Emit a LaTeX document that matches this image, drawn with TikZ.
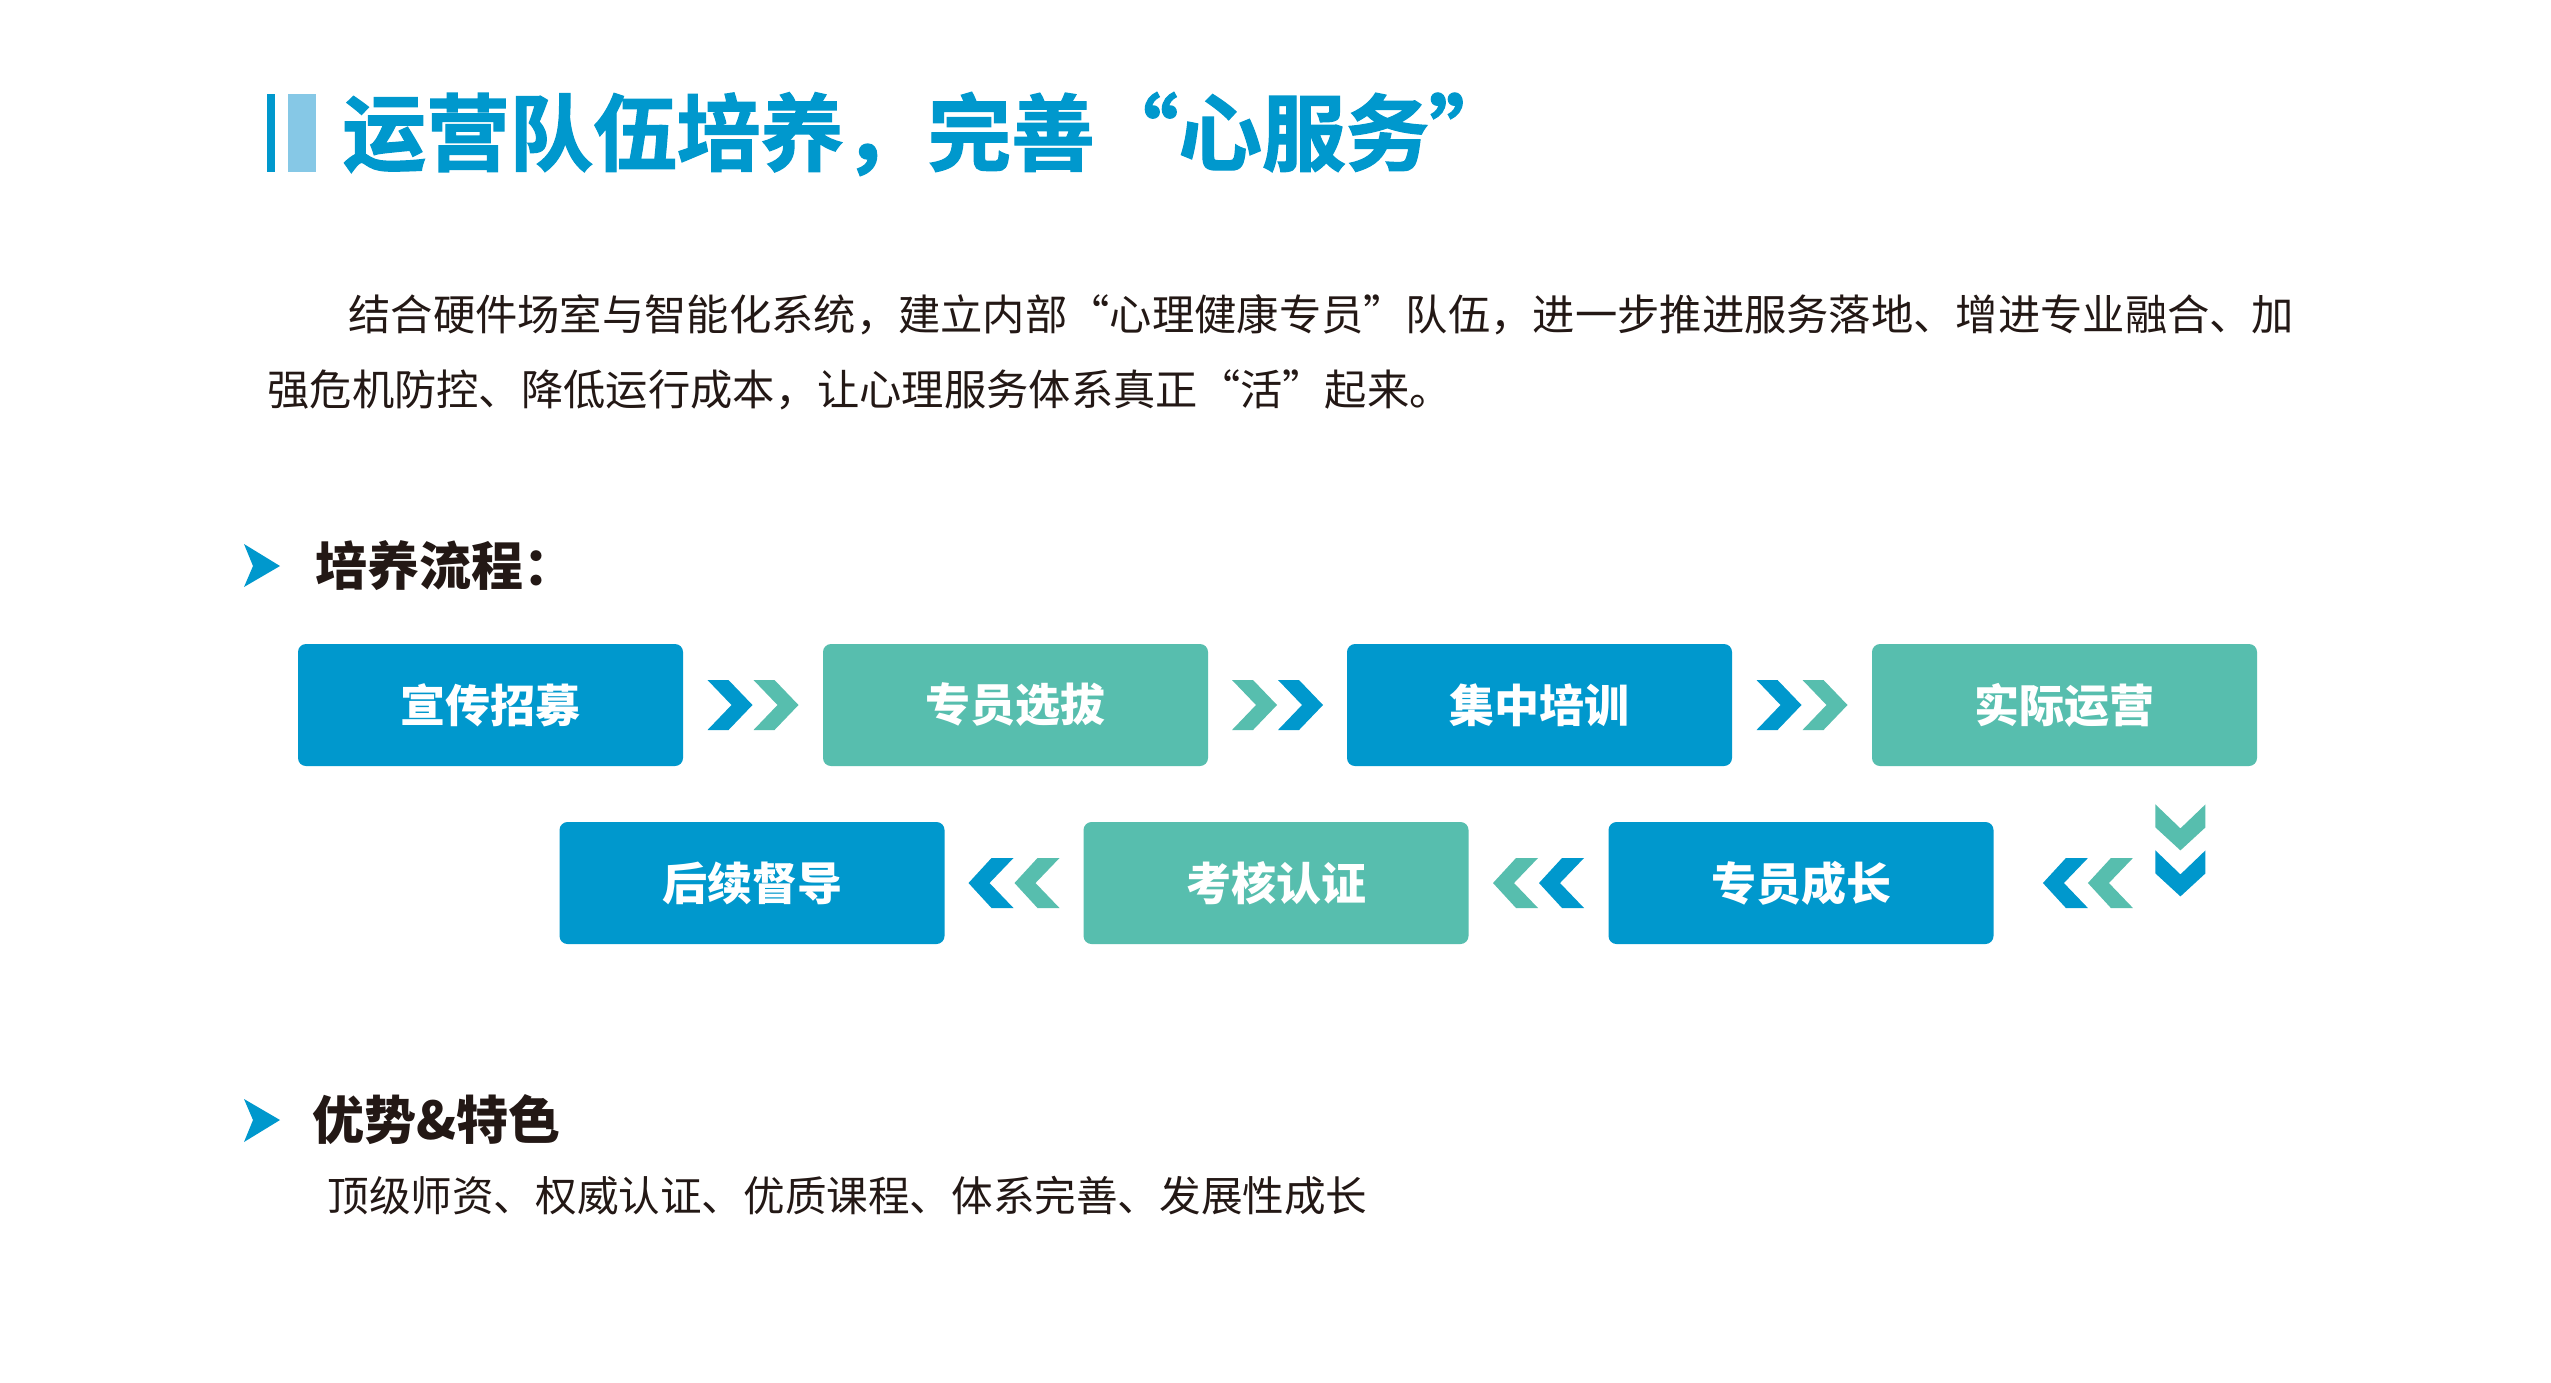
\documentclass[tikz,border=0pt]{standalone}
\usepackage{fontspec}
\setmainfont{Noto Sans CJK SC}
\newfontfamily\heavyfont[FakeBold=1.6]{Noto Sans CJK SC Bold}
\usetikzlibrary{calc}
\definecolor{cblue}{HTML}{0098CD}
\definecolor{cteal}{HTML}{57BEAE}
\definecolor{clight}{HTML}{86C8E6}
\definecolor{ctext}{HTML}{231815}
\tikzset{
  stepbox/.style={rounded corners=4pt, minimum width=192.5pt, minimum height=61pt,
    inner sep=0pt, text=white, font=\fontsize{22.5pt}{27pt}\selectfont\bfseries},
  headtext/.style={anchor=west, inner sep=0pt, text=ctext, font=\fontsize{26pt}{30pt}\selectfont\bfseries},
  bodytext/.style={anchor=west, inner sep=0pt, text=ctext, font=\fontsize{21.15pt}{26pt}\selectfont},
  chevR/.pic={\fill[#1] (0,-25) -- (21,-25) -- (45,0) -- (21,25) -- (0,25) -- (24,0) -- cycle;},
  chevL/.pic={\fill[#1] (0,0) -- (23,-25) -- (45,-25) -- (21,0) -- (45,25) -- (23,25) -- cycle;},
  chevD/.pic={\fill[#1] (0,0) -- (25,24) -- (50,0) -- (50,23) -- (25,46) -- (0,23) -- cycle;},
}
\begin{document}
\begin{tikzpicture}[x=0.5pt,y=-0.5pt]
\useasboundingbox (0,0) rectangle (2551,1382);
\fill[white] (0,0) rectangle (2551,1382);

% title
\fill[cblue] (267,94) rectangle (275,172);
\fill[clight] (288,94) rectangle (316,172);
\node[anchor=west, inner sep=0pt, text=cblue, font=\heavyfont\fontsize{41.8pt}{48pt}\selectfont] (title) at (342,134) {运营队伍培养，完善“心服务”};

% paragraph
\node[bodytext] (p1) at (348,315) {结合硬件场室与智能化系统，建立内部“心理健康专员”队伍，进一步推进服务落地、增进专业融合、加};
\node[bodytext] (p2) at (267,390) {强危机防控、降低运行成本，让心理服务体系真正“活”起来。};

% heading 1
\fill[cblue] (244,544) -- (280,566) -- (244,587) -- (253,566) -- cycle;
\node[headtext] (h1) at (315,566) {培养流程：};

% process boxes
\node[stepbox, fill=cblue] (b1) at (490.5,705) {宣传招募};
\node[stepbox, fill=cteal] (b2) at (1015.5,705) {专员选拔};
\node[stepbox, fill=cblue] (b3) at (1539.5,705) {集中培训};
\node[stepbox, fill=cteal] (b4) at (2064.5,705) {实际运营};
\node[stepbox, fill=cblue] (b5) at (1801,883) {专员成长};
\node[stepbox, fill=cteal] (b6) at (1276,883) {考核认证};
\node[stepbox, fill=cblue] (b7) at (752,883) {后续督导};

% chevrons row 1
\pic at ($(b1.east)!0.5!(b2.west)+(-45.5,0)$) {chevR=cblue};
\pic at ($(b1.east)!0.5!(b2.west)+(0.5,0)$) {chevR=cteal};
\pic at ($(b2.east)!0.5!(b3.west)+(-45.5,0)$) {chevR=cteal};
\pic at ($(b2.east)!0.5!(b3.west)+(0.5,0)$) {chevR=cblue};
\pic at ($(b3.east)!0.5!(b4.west)+(-45.5,0)$) {chevR=cblue};
\pic at ($(b3.east)!0.5!(b4.west)+(0.5,0)$) {chevR=cteal};

% down chevrons
\pic at ($(b4.south east)+(-102,38)$) {chevD=cteal};
\pic at ($(b4.south east)+(-102,84)$) {chevD=cblue};

% chevrons row 2
\pic at ($(b5.east)+(49,0)$) {chevL=cblue};
\pic at ($(b5.east)+(94,0)$) {chevL=cteal};
\pic at ($(b6.east)!0.5!(b5.west)+(-45.5,0)$) {chevL=cteal};
\pic at ($(b6.east)!0.5!(b5.west)+(0.5,0)$) {chevL=cblue};
\pic at ($(b7.east)!0.5!(b6.west)+(-45.5,0)$) {chevL=cblue};
\pic at ($(b7.east)!0.5!(b6.west)+(0.5,0)$) {chevL=cteal};

% heading 2
\fill[cblue] (244,1099) -- (280,1120) -- (244,1142) -- (253,1120) -- cycle;
\node[headtext] (h2) at (312,1120) {优势\&特色};
\node[bodytext, font=\fontsize{20.8pt}{25pt}\selectfont] (feat) at (327,1196) {顶级师资、权威认证、优质课程、体系完善、发展性成长};
\end{tikzpicture}
\end{document}
